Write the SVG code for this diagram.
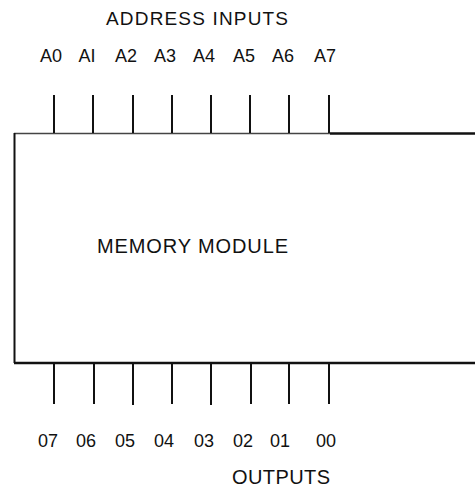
<svg xmlns="http://www.w3.org/2000/svg" width="475" height="487" viewBox="0 0 475 487">
<style>
text{font-family:"Liberation Sans",Arial,sans-serif;fill:#111;}
.lbl{font-size:18px;text-anchor:middle;}
.pin{stroke:#111;stroke-width:2;fill:none;}
</style>
<rect width="475" height="487" fill="#fff"/>
<g id="title">
<text x="106" y="25" font-size="19" textLength="182" lengthAdjust="spacing">ADDRESS  INPUTS</text>
</g>
<g id="module">
<path d="M14,133.5 H330" stroke="#444" stroke-width="1.5" fill="none"/>
<path d="M330,133.5 H476" stroke="#111" stroke-width="2.5" fill="none"/>
<path d="M14.5,133 V363" stroke="#111" stroke-width="2" fill="none"/>
<path d="M14,363 H476" stroke="#111" stroke-width="2.5" fill="none"/>
<text x="97" y="253" font-size="20" textLength="191" lengthAdjust="spacing">MEMORY  MODULE</text>
</g>
<g id="connectors">
<path class="pin" d="M54,95V133M93,95V133M133,95V133M172,95V133M211,95V133M250,95V133M289,95V133M329,95V133"/>
<path class="pin" d="M54,364V404M94,364V404M133,364V405M172,364V404M211,364V405M251,364V404M289,364V404M329,364V404"/>
</g>
<g id="inputs">
<text class="lbl" x="51" y="62">A0</text>
<text class="lbl" x="87" y="62">AI</text>
<text class="lbl" x="126" y="62">A2</text>
<text class="lbl" x="165" y="62">A3</text>
<text class="lbl" x="204" y="62">A4</text>
<text class="lbl" x="244" y="62">A5</text>
<text class="lbl" x="283" y="62">A6</text>
<text class="lbl" x="325" y="62">A7</text>
</g>
<g id="outputs">
<text class="lbl" x="48" y="447">07</text>
<text class="lbl" x="86" y="447">06</text>
<text class="lbl" x="125" y="447">05</text>
<text class="lbl" x="164" y="447">04</text>
<text class="lbl" x="204" y="447">03</text>
<text class="lbl" x="243" y="447">02</text>
<text class="lbl" x="280" y="447">01</text>
<text class="lbl" x="326" y="447">00</text>
<text x="232" y="484" font-size="20" textLength="98" lengthAdjust="spacing">OUTPUTS</text>
</g>
</svg>
